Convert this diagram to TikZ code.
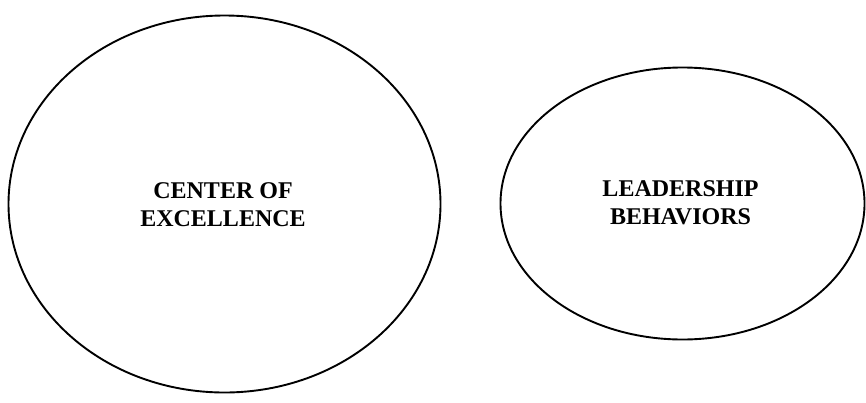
\documentclass[tikz,border=0pt]{standalone}
\usepackage{fontspec}
\setmainfont{Liberation Serif}
\usetikzlibrary{shapes.geometric}

\begin{document}
\begin{tikzpicture}[
    x=1pt, y=-1pt,
    blob/.style={ellipse, draw, line width=1.9pt, inner sep=0pt},
    caption/.style={align=center, font=\fontsize{24}{28}\selectfont\bfseries}
]
%% Canvas
\useasboundingbox (0,0) rectangle (866,402);

%% Left ellipse
\node[blob, minimum width=432pt, minimum height=377pt] (coe) at (224.5,204) {};
\node[caption] (coetext) at (223,205) {CENTER OF\\EXCELLENCE};

%% Right ellipse
\node[blob, minimum width=364pt, minimum height=272pt] (lead) at (682.5,203.5) {};
\node[caption] (leadtext) at (680.5,203) {LEADERSHIP\\BEHAVIORS};

\end{tikzpicture}
\end{document}
